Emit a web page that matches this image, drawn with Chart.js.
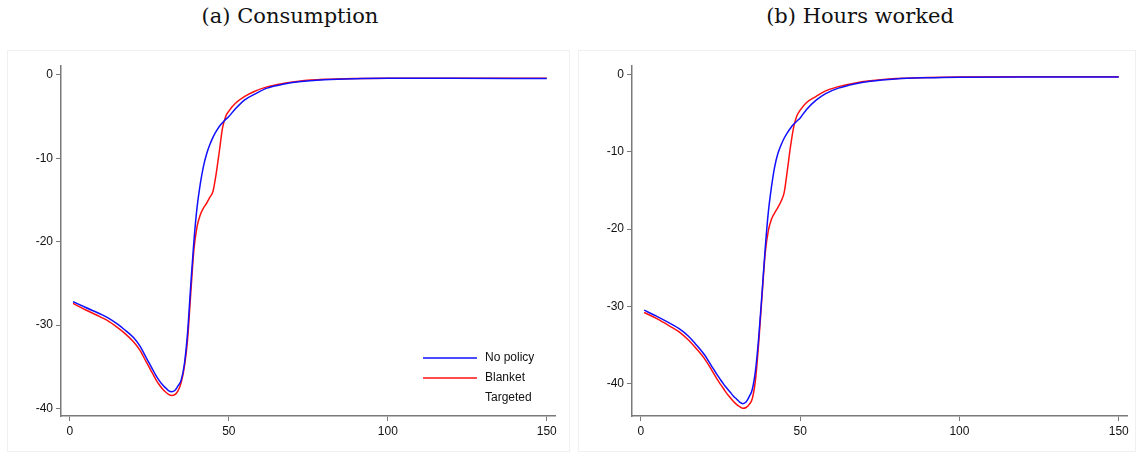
<!DOCTYPE html>
<html>
<head>
<meta charset="utf-8">
<script src="https://cdn.jsdelivr.net/npm/chart.js@4.4.1/dist/chart.umd.min.js"></script>
<style>
    body { margin: 0; background: #fff; width: 1138px; height: 456px; overflow: hidden; position: relative; }
    .title { position: absolute; top: 4px; font-family: "DejaVu Serif", serif; font-size: 21px; color: #111; text-align: center; width: 400px; }
    .panel { position: absolute; top: 50px; height: 402px; border: 1px solid #f0f0f0; box-sizing: border-box; }
</style>
</head>
<body>
<div class="title" style="left: 90px;">(a) Consumption</div>
<div class="title" style="left: 660px;">(b) Hours worked</div>
<div class="panel" style="left: 7px; width: 563px;"><canvas id="consChart"></canvas></div>
<div class="panel" style="left: 578px; width: 558px;"><canvas id="hoursChart"></canvas></div>

<script>
// Periods after the shock (x axis), shared by every series
const periods = [1, 5, 10, 12, 15, 17, 20, 22, 24, 25, 26, 27, 28, 29, 30, 31, 32, 33, 34, 35, 36, 37,
                 38, 39, 40, 41, 42, 43, 44, 45, 46, 47, 48, 49, 50, 52, 55, 58, 62, 67, 72, 80, 90,
                 100, 120, 150];

// (a) Consumption, % deviation
const consNoPolicy = [-27.2, -27.9, -28.75, -29.15, -29.9, -30.5, -31.5, -32.5, -33.9, -34.6, -35.3, -36.0,
                      -36.6, -37.1, -37.5, -37.85, -38.0, -37.85, -37.3, -36.6, -34.7, -31.0,
                      -25.3, -20.0, -15.9, -13.1, -11.0, -9.5, -8.4, -7.5, -6.8, -6.2, -5.75, -5.35, -5.0,
                      -4.1, -3.0, -2.35, -1.6, -1.15, -0.85, -0.6, -0.47, -0.43, -0.42, -0.45];
const consBlanket = [-27.4, -28.2, -29.1, -29.5, -30.3, -30.9, -32.0, -33.0, -34.4, -35.1, -35.8, -36.5,
                     -37.1, -37.6, -38.0, -38.3, -38.45, -38.35, -37.9, -36.9, -35.0, -31.8,
                     -26.3, -21.0, -18.2, -16.8, -16.0, -15.4, -14.7, -14.0, -11.9, -9.2, -6.4, -5.0, -4.35,
                     -3.45, -2.6, -2.0, -1.45, -1.05, -0.78, -0.55, -0.44, -0.41, -0.41, -0.43];

// (b) Hours worked, % deviation
const hoursNoPolicy = [-30.5, -31.3, -32.4, -32.9, -33.9, -34.8, -36.3, -37.6, -38.9, -39.5, -40.1, -40.6,
                       -41.1, -41.6, -42.0, -42.4, -42.6, -42.4, -41.7, -40.7, -38.2, -33.9,
                       -28.4, -22.6, -17.8, -14.5, -11.9, -10.2, -9.1, -8.2, -7.5, -6.9, -6.4, -6.0, -5.6,
                       -4.5, -3.3, -2.45, -1.75, -1.2, -0.85, -0.55, -0.4, -0.33, -0.3, -0.3];
const hoursBlanket = [-30.8, -31.6, -32.8, -33.3, -34.4, -35.3, -36.8, -38.1, -39.5, -40.1, -40.7, -41.3,
                      -41.8, -42.3, -42.7, -43.0, -43.2, -43.1, -42.7, -41.9, -39.4, -34.6,
                      -28.8, -23.2, -20.2, -18.7, -17.9, -17.2, -16.4, -15.2, -12.3, -9.2, -6.7, -5.3, -4.6,
                      -3.6, -2.8, -2.1, -1.55, -1.1, -0.8, -0.5, -0.37, -0.3, -0.28, -0.28];

const legendLabels = ['No policy', 'Blanket', 'Targeted'];
const xTicks = [0, 50, 100, 150];
const yTicks = [0, -10, -20, -30, -40];

const toPoints = (ys) => ys.map((y, i) => ({ x: periods[i], y: y }));

// Stata-style legend drawn inside the plot region, bottom right
const cornerLegend = {
    id: 'cornerLegend',
    afterDraw(chart) {
        if (!chart.options.plugins.cornerLegend.show) return;
        const ctx = chart.ctx;
        const area = chart.chartArea;
        ctx.save();
        ctx.font = '12px "Liberation Sans", Arial, sans-serif';
        ctx.textBaseline = 'middle';
        chart.data.datasets.forEach((ds, i) => {
            const y = area.bottom - 58 + i * 20;
            ctx.strokeStyle = ds.borderColor;
            ctx.lineWidth = 1.5;
            ctx.beginPath();
            ctx.moveTo(area.right - 132, y);
            ctx.lineTo(area.right - 78, y);
            ctx.stroke();
            ctx.fillStyle = '#111';
            ctx.fillText(ds.label, area.right - 70, y);
        });
        ctx.restore();
    }
};

function makeChart(id, noPolicy, blanket, yMin, yMax, rightPad, withLegend) {
    const datasets = [
        { label: legendLabels[0], data: toPoints(noPolicy), borderColor: '#1010ff' },
        { label: legendLabels[1], data: toPoints(blanket), borderColor: '#ff1010' }
    ];
    if (withLegend) {
        // Targeted appears in the legend only, with no visible line
        datasets.push({ label: legendLabels[2], data: [], borderColor: 'rgba(0,0,0,0)' });
    }
    datasets.forEach(ds => {
        ds.borderWidth = 1.5;
        ds.pointRadius = 0;
        ds.fill = false;
        ds.cubicInterpolationMode = 'monotone';
    });

    const axisColor = '#7a7a7a';
    const tickFont = { family: '"Liberation Sans", Arial, sans-serif', size: 12 };

    return new Chart(document.getElementById(id), {
        type: 'line',
        data: { datasets: datasets },
        plugins: [cornerLegend],
        options: {
            responsive: true,
            maintainAspectRatio: false,
            animation: false,
            layout: { padding: { top: 15, right: rightPad, left: 0, bottom: 0 } },
            plugins: {
                legend: { display: false },
                tooltip: { enabled: false },
                cornerLegend: { show: withLegend }
            },
            scales: {
                x: {
                    type: 'linear',
                    min: -2.8,
                    max: 152.6,
                    afterBuildTicks: (axis) => { axis.ticks = xTicks.map(v => ({ value: v })); },
                    afterFit: (axis) => { axis.height = 35; },
                    grid: { drawOnChartArea: false, drawTicks: true, tickLength: 5, color: axisColor },
                    border: { display: true, color: axisColor, width: 1.5 },
                    ticks: { color: '#111', font: tickFont, padding: 3, maxRotation: 0 }
                },
                y: {
                    type: 'linear',
                    min: yMin,
                    max: yMax,
                    afterBuildTicks: (axis) => { axis.ticks = yTicks.map(v => ({ value: v })); },
                    afterFit: (axis) => { axis.width = 53; },
                    grid: { drawOnChartArea: false, drawTicks: true, tickLength: 5, color: axisColor },
                    border: { display: true, color: axisColor, width: 1.5 },
                    ticks: { color: '#111', font: tickFont, padding: 3 }
                }
            }
        }
    });
}

makeChart('consChart', consNoPolicy, consBlanket, -40.9, 1.05, 14, true);
makeChart('hoursChart', hoursNoPolicy, hoursBlanket, -44.2, 1.12, 8, false);
</script>
</body>
</html>
